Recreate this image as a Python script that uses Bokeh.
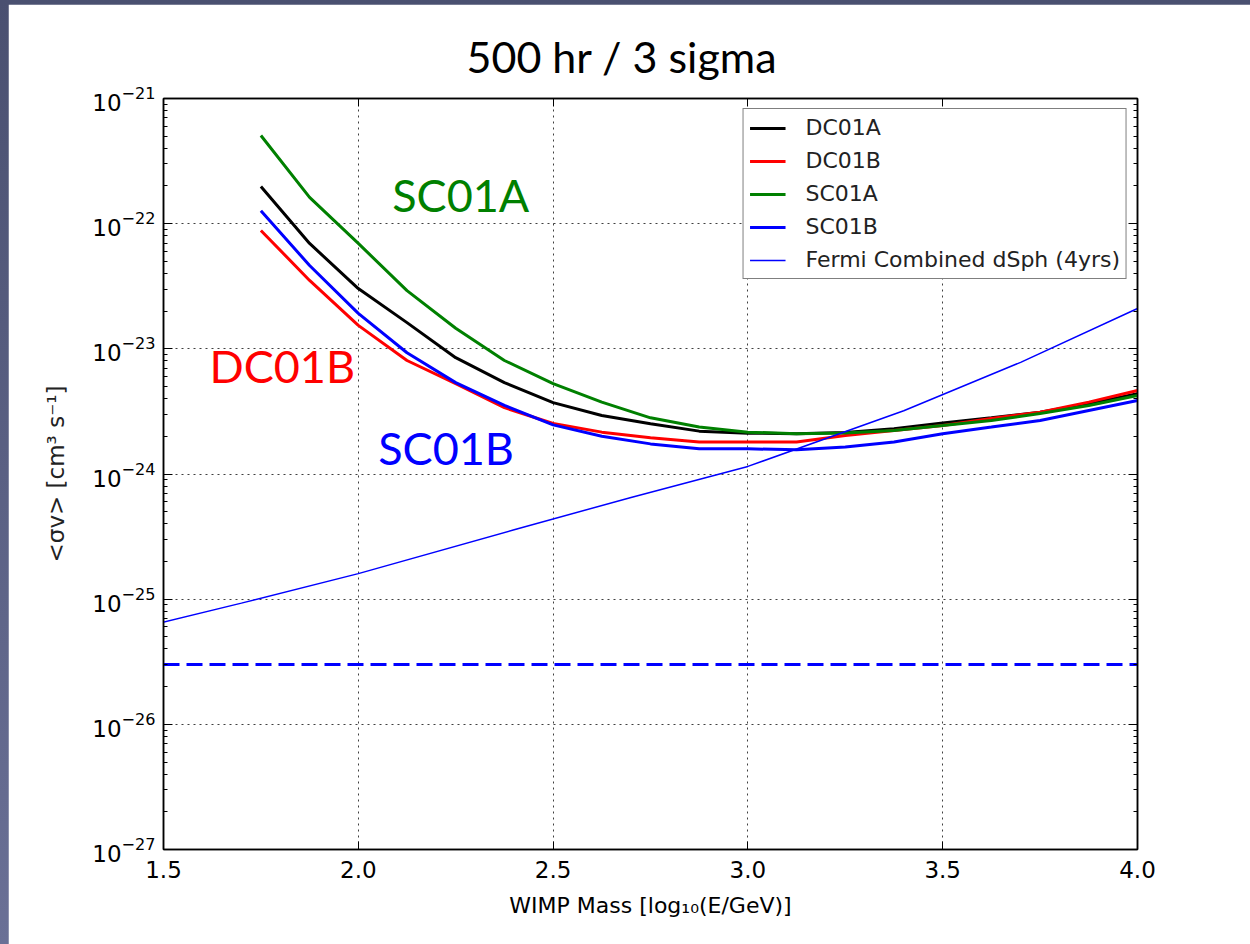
from bokeh.plotting import figure
from bokeh.models import (Range1d, LogAxis, LinearAxis, FixedTicker, LogTicker,
                          PrintfTickFormatter, CustomJSTickFormatter, Legend, LegendItem, Label)
from bokeh.layouts import column
from bokeh.embed import file_html
from bokeh.resources import INLINE

# ---------------- data ----------------
mass = [1.75, 1.875, 2.0, 2.125, 2.25, 2.375, 2.5, 2.625, 2.75, 2.875,
        3.0, 3.125, 3.25, 3.375, 3.5, 3.625, 3.75, 3.875, 4.0]
dc01a = [1.98e-22, 6.95e-23, 3.03e-23, 1.62e-23, 8.5e-24, 5.37e-24, 3.72e-24, 2.93e-24, 2.52e-24, 2.2e-24,
         2.12e-24, 2.1e-24, 2.15e-24, 2.3e-24, 2.55e-24, 2.81e-24, 3.12e-24, 3.64e-24, 4.37e-24]
dc01b = [8.83e-23, 3.52e-23, 1.54e-23, 8.07e-24, 5.28e-24, 3.39e-24, 2.53e-24, 2.16e-24, 1.95e-24, 1.8e-24,
         1.8e-24, 1.8e-24, 2.03e-24, 2.23e-24, 2.44e-24, 2.78e-24, 3.12e-24, 3.75e-24, 4.65e-24]
sc01a = [5.06e-22, 1.62e-22, 6.95e-23, 2.92e-23, 1.46e-23, 8.07e-24, 5.28e-24, 3.75e-24, 2.81e-24, 2.37e-24,
         2.16e-24, 2.1e-24, 2.13e-24, 2.23e-24, 2.44e-24, 2.68e-24, 3.04e-24, 3.53e-24, 4.24e-24]
sc01b = [1.27e-22, 4.63e-23, 1.92e-23, 9.3e-24, 5.37e-24, 3.53e-24, 2.47e-24, 2.0e-24, 1.74e-24, 1.59e-24,
         1.59e-24, 1.56e-24, 1.64e-24, 1.8e-24, 2.1e-24, 2.37e-24, 2.68e-24, 3.22e-24, 3.86e-24]
fermi_mass = [1.4, 1.7, 2.0, 2.4, 2.7, 3.0, 3.4, 3.7, 4.0]
fermi = [5.5e-26, 9.3e-26, 1.6e-25, 3.58e-25, 6.5e-25, 1.15e-24, 3.2e-24, 7.8e-24, 2.1e-23]
relic_mass = [1.5, 4.0]
relic = [3e-26, 3e-26]
x_ticks = [1.5, 2.0, 2.5, 3.0, 3.5, 4.0]

series_names = ["DC01A", "DC01B", "SC01A", "SC01B"]
series_vals = [dc01a, dc01b, sc01a, sc01b]
series_colors = ["#000000", "#ff0000", "#008000", "#0000ff"]

FONT = "DejaVu Sans"

p = figure(width=1242, height=940, x_range=Range1d(1.5, 4.0), y_range=Range1d(1e-27, 1e-21),
           y_axis_type="log", output_backend="svg", toolbar_location=None,
           min_border_left=155, min_border_right=113, min_border_top=94, min_border_bottom=95)
p.background_fill_color = "white"
p.border_fill_color = "white"
p.outline_line_color = "black"
p.outline_line_width = 1.5

# title
p.title.text = "500 hr / 3 sigma"
p.title.text_font = "Lato"
p.title.text_font_size = "43px"
p.title.text_font_style = "normal"
p.title.text_color = "black"
p.title.align = "left"
p.title.offset = 303
p.title.standoff = 33

# x axis
xa = p.xaxis[0]
xa.ticker = FixedTicker(ticks=x_ticks)
xa.formatter = PrintfTickFormatter(format="%.1f")
xa.major_tick_in = 8
xa.major_tick_out = 0
xa.minor_tick_line_color = None
xa.axis_line_width = 1.5
xa.major_label_text_font = FONT
xa.major_label_text_font_size = "23px"
xa.major_label_text_color = "black"
xa.major_label_standoff = 11
xa.axis_label = "WIMP Mass [log\u2081\u2080(E/GeV)]"
xa.axis_label_text_font = FONT
xa.axis_label_text_font_size = "22px"
xa.axis_label_text_font_style = "normal"
xa.axis_label_text_color = "black"
xa.axis_label_standoff = 12

# y axis
ya = p.yaxis[0]
ya.ticker = LogTicker(num_minor_ticks=10, desired_num_ticks=7)
ya.major_tick_in = 9
ya.major_tick_out = 0
ya.minor_tick_in = 4
ya.minor_tick_out = 0
ya.axis_line_width = 1.5
ya.major_label_text_font = FONT
ya.major_label_text_font_size = "23px"
ya.major_label_text_color = "black"
ya.major_label_standoff = 8
ya.axis_label = "<\u03c3v> [cm\u00b3 s\u207b\u00b9]"
ya.axis_label_text_font = FONT
ya.axis_label_text_font_size = "23px"
ya.axis_label_text_font_style = "normal"
ya.axis_label_text_color = "#222222"
ya.axis_label_standoff = 20

blank = CustomJSTickFormatter(code="return ''")
top = LinearAxis(ticker=FixedTicker(ticks=x_ticks), formatter=blank, major_tick_in=8, major_tick_out=0,
                 minor_tick_line_color=None, axis_line_width=1.5, major_label_standoff=0)
p.add_layout(top, "above")
right = LogAxis(ticker=LogTicker(num_minor_ticks=10, desired_num_ticks=7), formatter=blank,
                major_tick_in=9, major_tick_out=0, minor_tick_in=4, minor_tick_out=0,
                axis_line_width=1.5, major_label_standoff=0)
p.add_layout(right, "right")

# grid
p.xgrid.ticker = FixedTicker(ticks=x_ticks)
for g in (p.xgrid[0], p.ygrid[0]):
    g.grid_line_color = "black"
    g.grid_line_alpha = 0.75
    g.grid_line_dash = "2 4"
    g.grid_line_width = 1

items = []
for name, vals, col in zip(series_names, series_vals, series_colors):
    r = p.line(mass, vals, line_color=col, line_width=3)
    items.append(LegendItem(label=name, renderers=[r]))
rf = p.line(fermi_mass, fermi, line_color="#0000ff", line_width=1.5)
items.append(LegendItem(label="Fermi Combined dSph (4yrs)", renderers=[rf]))
p.line(relic_mass, relic, line_color="#0000ff", line_width=3, line_dash="16 7")

legend = Legend(items=items, location="top_right", margin=10, padding=6,
                border_line_color="black", border_line_width=1.5, background_fill_color="white",
                background_fill_alpha=1, label_text_font=FONT, label_text_font_size="22px",
                label_text_color="#222222", glyph_width=36, glyph_height=24, label_height=24,
                label_standoff=20, spacing=8)
p.add_layout(legend)

for txt, x, y, col in [("SC01A", 2.087, 1.68e-22, "#008000"),
                       ("DC01B", 1.618, 7.23e-24, "#ff0000"),
                       ("SC01B", 2.051, 1.6e-24, "#0000ff")]:
    p.add_layout(Label(x=x, y=y, text=txt, text_color=col, text_font="Lato",
                       text_font_size="45px", text_baseline="alphabetic", text_align="left"))

lay = column(p, styles={"background": "linear-gradient(#4a5070, #6a7096)",
                        "padding-left": "8px", "padding-top": "4px"})

open("out.html", "w").write(file_html(lay, INLINE))
